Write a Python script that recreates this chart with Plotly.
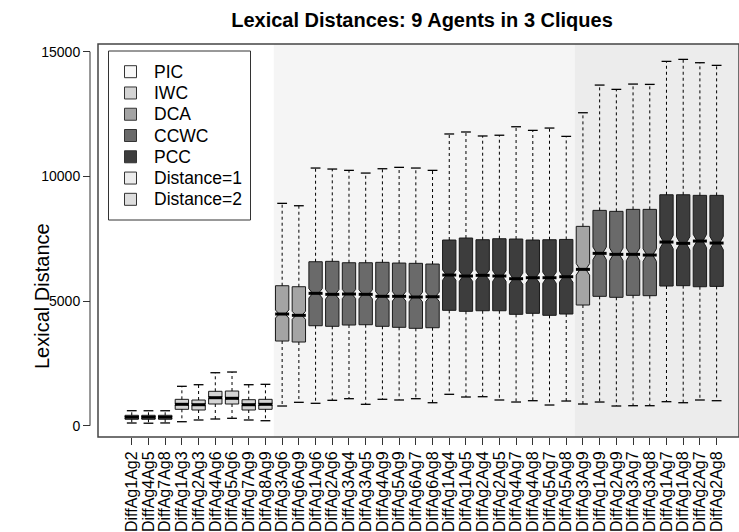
import plotly.graph_objects as go
import math

# ---------------- data ----------------
labels = ["DiffAg1Ag2", "DiffAg4Ag5", "DiffAg7Ag8", "DiffAg1Ag3", "DiffAg2Ag3", "DiffAg4Ag6",
          "DiffAg5Ag6", "DiffAg7Ag9", "DiffAg8Ag9", "DiffAg3Ag6", "DiffAg6Ag9", "DiffAg1Ag6",
          "DiffAg2Ag6", "DiffAg3Ag4", "DiffAg3Ag5", "DiffAg4Ag9", "DiffAg5Ag9", "DiffAg6Ag7",
          "DiffAg6Ag8", "DiffAg1Ag4", "DiffAg1Ag5", "DiffAg2Ag4", "DiffAg2Ag5", "DiffAg4Ag7",
          "DiffAg4Ag8", "DiffAg5Ag7", "DiffAg5Ag8", "DiffAg3Ag9", "DiffAg1Ag9", "DiffAg2Ag9",
          "DiffAg3Ag7", "DiffAg3Ag8", "DiffAg1Ag7", "DiffAg1Ag8", "DiffAg2Ag7", "DiffAg2Ag8"]

groups = ["PIC"] * 3 + ["IWC"] * 6 + ["DCA"] * 2 + ["CCWC"] * 8 + ["PCC"] * 8 + \
         ["DCA"] + ["CCWC"] * 4 + ["PCC"] * 4

lower = [108, 100, 110, 160, 229, 269, 297, 229, 200,
         790, 938,
         898, 1018, 1083, 858, 1059, 1031, 1083, 922,
         1259, 1151, 1163, 1031, 950, 1003, 830, 990,
         870,
         950, 790, 802, 802,
         963, 922, 1031, 1003]
q1 = [257, 257, 257, 657, 630, 870, 870, 630, 657,
      3396, 3356,
      4010, 3986, 4038, 4050, 3986, 3946, 3906, 3930,
      4627, 4587, 4611, 4611, 4467, 4507, 4427, 4479,
      4840,
      5189, 5149, 5229, 5215,
      5602, 5616, 5574, 5588]
median = [337, 337, 337, 858, 842, 1123, 1099, 842, 858,
          4479, 4427,
          5309, 5269, 5281, 5269, 5189, 5189, 5161, 5173,
          6043, 6003, 6031, 6003, 5895, 5935, 5935, 5975,
          6271,
          6913, 6873, 6873, 6845,
          7366, 7314, 7406, 7326]
q3 = [417, 417, 417, 1058, 1030, 1380, 1391, 1043, 1058,
      5614, 5574,
      6576, 6592, 6536, 6536, 6552, 6524, 6512, 6484,
      7447, 7527, 7459, 7499, 7487, 7447, 7459, 7471,
      7995,
      8637, 8597, 8677, 8677,
      9263, 9263, 9239, 9239]
upper = [602, 600, 600, 1580, 1644, 2125, 2153, 1644, 1660,
         8918, 8822,
         10334, 10294, 10241, 10133, 10306, 10362, 10334, 10241,
         11700, 11780, 11620, 11650, 11990, 11845, 11938, 11604,
         12552,
         13662, 13489, 13702, 13689,
         14612, 14692, 14558, 14452]
n_obs = 470  # observations per box (for notch size, as R computes it)

legend_labels = ["PIC", "IWC", "DCA", "CCWC", "PCC", "Distance=1", "Distance=2"]
legend_colors = ["#f8f8f8", "#d4d4d4", "#a4a4a4", "#6a6a6a", "#3d3d3d", "#ececec", "#dedede"]
group_colors = dict(zip(legend_labels, legend_colors))

y_ticks = [0, 5000, 10000, 15000]
band_edges = [8.5, 26.5]          # background bands (Distance=1 / Distance=2)
band_colors = ["#f5f5f5", "#ececec"]

# ---------------- layout geometry ----------------
W, H = 739, 532
TOP, BOT, LEFT = 44, 437, 98
FONT = "Liberation Sans, Arial, Helvetica, sans-serif"


def px_x(p):
    return p / W


def px_y(p):
    return (BOT - p) / (BOT - TOP)


xs = list(range(len(labels)))
fig = go.Figure()

# boxes, one trace per group
for g in ["PIC", "IWC", "DCA", "CCWC", "PCC"]:
    idx = [i for i in xs if groups[i] == g]
    fig.add_trace(go.Box(
        x=idx,
        q1=[q1[i] for i in idx],
        median=[median[i] for i in idx],
        q3=[q3[i] for i in idx],
        lowerfence=[q1[i] for i in idx],
        upperfence=[q3[i] for i in idx],
        notched=True,
        notchspan=[1.58 * (q3[i] - q1[i]) / math.sqrt(n_obs) for i in idx],
        notchwidth=0.28,
        width=0.8,
        whiskerwidth=0,
        fillcolor=group_colors[g],
        line=dict(color="#1a1a1a", width=1),
        boxpoints=False,
        showlegend=False,
        hoverinfo="skip",
    ))

# dashed whiskers
wx, wy = [], []
for i in xs:
    wx += [i, i, None, i, i, None]
    wy += [q3[i], upper[i], None, q1[i], lower[i], None]
fig.add_trace(go.Scatter(x=wx, y=wy, mode="lines",
                         line=dict(color="black", width=1, dash="3px,3px"),
                         showlegend=False, hoverinfo="skip"))

# whisker caps
fig.add_trace(go.Scatter(x=xs + xs, y=upper + lower, mode="markers",
                         marker=dict(symbol="line-ew", size=7,
                                     line=dict(color="black", width=1.3)),
                         showlegend=False, hoverinfo="skip"))

# thick medians
fig.add_trace(go.Scatter(x=xs, y=median, mode="markers",
                         marker=dict(symbol="line-ew", size=10,
                                     line=dict(color="black", width=3)),
                         showlegend=False, hoverinfo="skip"))

shapes = []
# background bands
shapes.append(dict(type="rect", xref="x", yref="paper", x0=band_edges[0], x1=band_edges[1],
                   y0=0, y1=1, fillcolor=band_colors[0], line=dict(width=0), layer="below"))
shapes.append(dict(type="rect", xref="x", yref="paper", x0=band_edges[1], x1=40,
                   y0=0, y1=1, fillcolor=band_colors[1], line=dict(width=0), layer="below"))
# frame
shapes.append(dict(type="rect", xref="paper", yref="paper", x0=px_x(LEFT), x1=1.0,
                   y0=0, y1=1, line=dict(color="#444444", width=1.5), layer="above"))
# y axis line (R style, offset)
shapes.append(dict(type="line", xref="paper", yref="y", x0=px_x(90), x1=px_x(90),
                   y0=y_ticks[0], y1=y_ticks[-1], line=dict(color="#333333", width=1)))

# legend
shapes.append(dict(type="rect", xref="paper", yref="paper", x0=px_x(108.5), x1=px_x(250.5),
                   y0=px_y(220), y1=px_y(51), fillcolor="white",
                   line=dict(color="#333333", width=1), layer="above"))
annotations = []
for k, (lab, col) in enumerate(zip(legend_labels, legend_colors)):
    cy = 71.7 + k * 21.27
    shapes.append(dict(type="rect", xref="paper", yref="paper",
                       x0=px_x(124.5), x1=px_x(136.5), y0=px_y(cy + 6), y1=px_y(cy - 6),
                       fillcolor=col, line=dict(color="#333333", width=1), layer="above"))
    annotations.append(dict(text=lab, xref="paper", yref="paper", x=px_x(152), y=px_y(cy),
                            xanchor="left", yanchor="middle", showarrow=False,
                            font=dict(size=17.5, color="black", family=FONT)))

# y axis title
annotations.append(dict(text="Lexical Distance", xref="paper", yref="paper",
                        x=px_x(42), y=px_y(296), textangle=-90, showarrow=False,
                        xanchor="center", yanchor="middle",
                        font=dict(size=20, color="black", family=FONT)))

fig.update_layout(
    width=W, height=H,
    margin=dict(l=0, r=0, t=TOP, b=H - BOT, pad=0),
    template=None,
    paper_bgcolor="white", plot_bgcolor="white",
    boxmode="overlay",
    showlegend=False,
    font=dict(family=FONT, color="black"),
    title=dict(text="<b>Lexical Distances: 9 Agents in 3 Cliques</b>",
               x=422 / W, xanchor="center", xref="paper",
               y=1 - 20 / H, yanchor="middle", yref="container",
               font=dict(size=20, family=FONT, color="black")),
    xaxis=dict(domain=[px_x(LEFT), 1.0], range=[-2.02, 36.34],
               tickmode="array", tickvals=xs, ticktext=labels, tickangle=-90,
               ticks="outside", ticklen=7, tickcolor="#333333", tickwidth=1,
               ticklabelstandoff=0,
               tickfont=dict(size=16, family=FONT, color="black"),
               showgrid=False, zeroline=False, showline=False, automargin=False),
    yaxis=dict(anchor="free", position=px_x(90), range=[-453, 15309],
               tickmode="array", tickvals=y_ticks, ticktext=[str(v) for v in y_ticks],
               ticks="outside", ticklen=7, tickcolor="#333333", tickwidth=1,
               tickfont=dict(size=14, family=FONT, color="black"),
               showgrid=False, zeroline=False, showline=False, automargin=False),
    shapes=shapes,
    annotations=annotations,
)

fig.write_html("out.html", config={"displayModeBar": False},
               post_script="document.body.style.margin='0';document.body.style.padding='0';")
